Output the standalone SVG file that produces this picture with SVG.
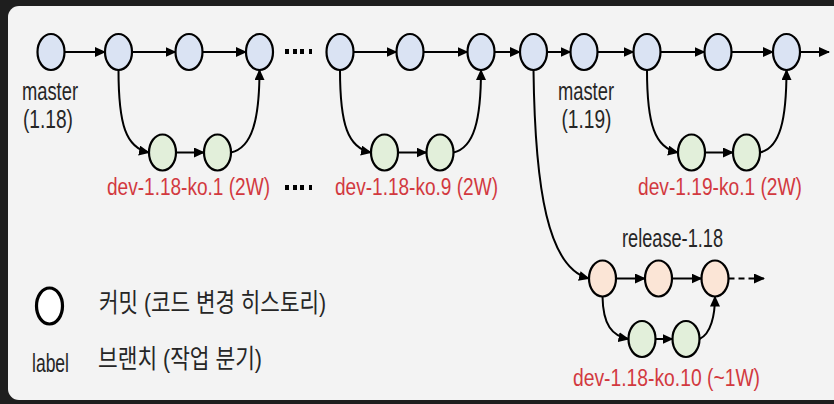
<svg xmlns="http://www.w3.org/2000/svg" width="834" height="404" viewBox="0 0 834 404">
<defs>
<marker id="ah" markerUnits="userSpaceOnUse" markerWidth="11" markerHeight="10" refX="10" refY="5" orient="auto">
<path d="M0,0 L11,5 L0,10 z" fill="#000"/>
</marker>
<style>
.m{fill:#dae3f3;stroke:#000;stroke-width:2.2}
.d{fill:#e2efda;stroke:#000;stroke-width:2.2}
.r{fill:#fbe5d6;stroke:#000;stroke-width:2.2}
.c{fill:none;stroke:#000;stroke-width:2;marker-end:url(#ah)}
.t{font-family:"Liberation Sans","Noto Sans CJK KR",sans-serif;font-size:25px;fill:#262626}
.red{font-family:"Liberation Sans","Noto Sans CJK KR",sans-serif;font-size:23.5px;fill:#d2393f}
.k{font-family:"Liberation Sans","Noto Sans CJK KR",sans-serif;font-size:26px;fill:#262626}
.dot{fill:#000}
</style>
</defs>
<rect x="0" y="0" width="834" height="404" fill="#1e1e1e"/>
<rect x="8" y="6" width="850" height="394" rx="11" fill="#f3f3f3"/>

<g id="connectors">
<path class="c" d="M64.5,52 H105"/>
<path class="c" d="M132,52 H175.5"/>
<path class="c" d="M202.5,52 H246"/>
<path class="c" d="M353.5,52 H396.5"/>
<path class="c" d="M423.5,52 H467.5"/>
<path class="c" d="M494.5,52 H520"/>
<path class="c" d="M547,52 H570.5"/>
<path class="c" d="M597.5,52 H633.5"/>
<path class="c" d="M660.5,52 H704.5"/>
<path class="c" d="M731.5,52 H773"/>
<path class="c" d="M800,52 H829"/>
<path class="c" d="M118.5,70 C118.5,125 126,148 149,152.5"/>
<path class="c" d="M176,152.5 H204"/>
<path class="c" d="M231,152.5 C252,148 259.5,120 259.5,70"/>
<path class="c" d="M340,70 C340,125 348,148 371,152.5"/>
<path class="c" d="M398,152.5 H426.5"/>
<path class="c" d="M453.5,152.5 C474,148 481,120 481,70"/>
<path class="c" d="M647,70 C647,125 655,148 678,152.5"/>
<path class="c" d="M705,152.5 H733"/>
<path class="c" d="M760,152.5 C780,148 786.5,120 786.5,70"/>
<path class="c" d="M533.5,70 C535,190 548,268 589,278.5"/>
<path class="c" d="M616,278.5 H645"/>
<path class="c" d="M672,278.5 H701.5"/>
<path class="c" d="M728.5,278.5 H764" stroke-dasharray="6,4"/>
<path class="c" d="M602.5,296.5 C603,325 612,336 628.5,339"/>
<path class="c" d="M655.5,339 H672.5"/>
<path class="c" d="M699.5,339 C711,334 715,315 715,296.5"/>
</g>

<g id="dots1"><rect class="dot" x="285" y="49" width="4" height="5"/><rect class="dot" x="293" y="49" width="4" height="5"/><rect class="dot" x="300" y="49" width="4" height="5"/><rect class="dot" x="309" y="49" width="3" height="5"/></g>
<g id="dots2"><rect class="dot" x="285" y="185" width="4" height="5"/><rect class="dot" x="293" y="185" width="4" height="5"/><rect class="dot" x="300" y="185" width="4" height="5"/><rect class="dot" x="309" y="185" width="3" height="5"/></g>

<g id="m1"><ellipse class="m" cx="51" cy="52" rx="13.5" ry="18"/></g>
<g id="m2"><ellipse class="m" cx="118.5" cy="52" rx="13.5" ry="18"/></g>
<g id="m3"><ellipse class="m" cx="189" cy="52" rx="13.5" ry="18"/></g>
<g id="m4"><ellipse class="m" cx="259.5" cy="52" rx="13.5" ry="18"/></g>
<g id="m5"><ellipse class="m" cx="340" cy="52" rx="13.5" ry="18"/></g>
<g id="m6"><ellipse class="m" cx="410" cy="52" rx="13.5" ry="18"/></g>
<g id="m7"><ellipse class="m" cx="481" cy="52" rx="13.5" ry="18"/></g>
<g id="m8"><ellipse class="m" cx="533.5" cy="52" rx="13.5" ry="18"/></g>
<g id="m9"><ellipse class="m" cx="584" cy="52" rx="13.5" ry="18"/></g>
<g id="m10"><ellipse class="m" cx="647" cy="52" rx="13.5" ry="18"/></g>
<g id="m11"><ellipse class="m" cx="718" cy="52" rx="13.5" ry="18"/></g>
<g id="m12"><ellipse class="m" cx="786.5" cy="52" rx="13.5" ry="18"/></g>

<g id="d1"><ellipse class="d" cx="162.5" cy="152.5" rx="13.5" ry="18"/></g>
<g id="d2"><ellipse class="d" cx="217.5" cy="152.5" rx="13.5" ry="18"/></g>
<g id="d3"><ellipse class="d" cx="384.5" cy="152.5" rx="13.5" ry="18"/></g>
<g id="d4"><ellipse class="d" cx="440" cy="152.5" rx="13.5" ry="18"/></g>
<g id="d5"><ellipse class="d" cx="691.5" cy="152.5" rx="13.5" ry="18"/></g>
<g id="d6"><ellipse class="d" cx="746.5" cy="152.5" rx="13.5" ry="18"/></g>

<g id="r1"><ellipse class="r" cx="602.5" cy="278.5" rx="13.5" ry="18"/></g>
<g id="r2"><ellipse class="r" cx="658.5" cy="278.5" rx="13.5" ry="18"/></g>
<g id="r3"><ellipse class="r" cx="715" cy="278.5" rx="13.5" ry="18"/></g>

<g id="l1"><ellipse class="d" cx="642" cy="339" rx="13.5" ry="18"/></g>
<g id="l2"><ellipse class="d" cx="686" cy="339" rx="13.5" ry="18"/></g>

<g id="labels">
<text class="t" x="50" y="100" text-anchor="middle" textLength="56" lengthAdjust="spacingAndGlyphs">master</text>
<text class="t" x="48" y="128" text-anchor="middle" textLength="50" lengthAdjust="spacingAndGlyphs">(1.18)</text>
<text class="t" x="586" y="100" text-anchor="middle" textLength="56" lengthAdjust="spacingAndGlyphs">master</text>
<text class="t" x="586.5" y="128" text-anchor="middle" textLength="50" lengthAdjust="spacingAndGlyphs">(1.19)</text>
<text class="t" x="672.5" y="247" text-anchor="middle" font-size="21" textLength="101" lengthAdjust="spacingAndGlyphs">release-1.18</text>
<text class="red" x="188.5" y="195" text-anchor="middle" textLength="163" lengthAdjust="spacingAndGlyphs">dev-1.18-ko.1 (2W)</text>
<text class="red" x="416.5" y="195" text-anchor="middle" textLength="163" lengthAdjust="spacingAndGlyphs">dev-1.18-ko.9 (2W)</text>
<text class="red" x="720" y="195" text-anchor="middle" textLength="164" lengthAdjust="spacingAndGlyphs">dev-1.19-ko.1 (2W)</text>
<text class="red" x="666.5" y="386" text-anchor="middle" textLength="187" lengthAdjust="spacingAndGlyphs">dev-1.18-ko.10 (~1W)</text>
</g>

<g id="legend">
<ellipse cx="49.5" cy="306" rx="13" ry="18" fill="#fff" stroke="#000" stroke-width="3.2"/>
<text class="k" x="99" y="312" textLength="227" lengthAdjust="spacingAndGlyphs">커밋 (코드 변경 히스토리)</text>
<text class="t" x="32" y="372" font-size="25" textLength="37" lengthAdjust="spacingAndGlyphs">label</text>
<text class="k" x="98" y="368" textLength="164" lengthAdjust="spacingAndGlyphs">브랜치 (작업 분기)</text>
</g>
</svg>
